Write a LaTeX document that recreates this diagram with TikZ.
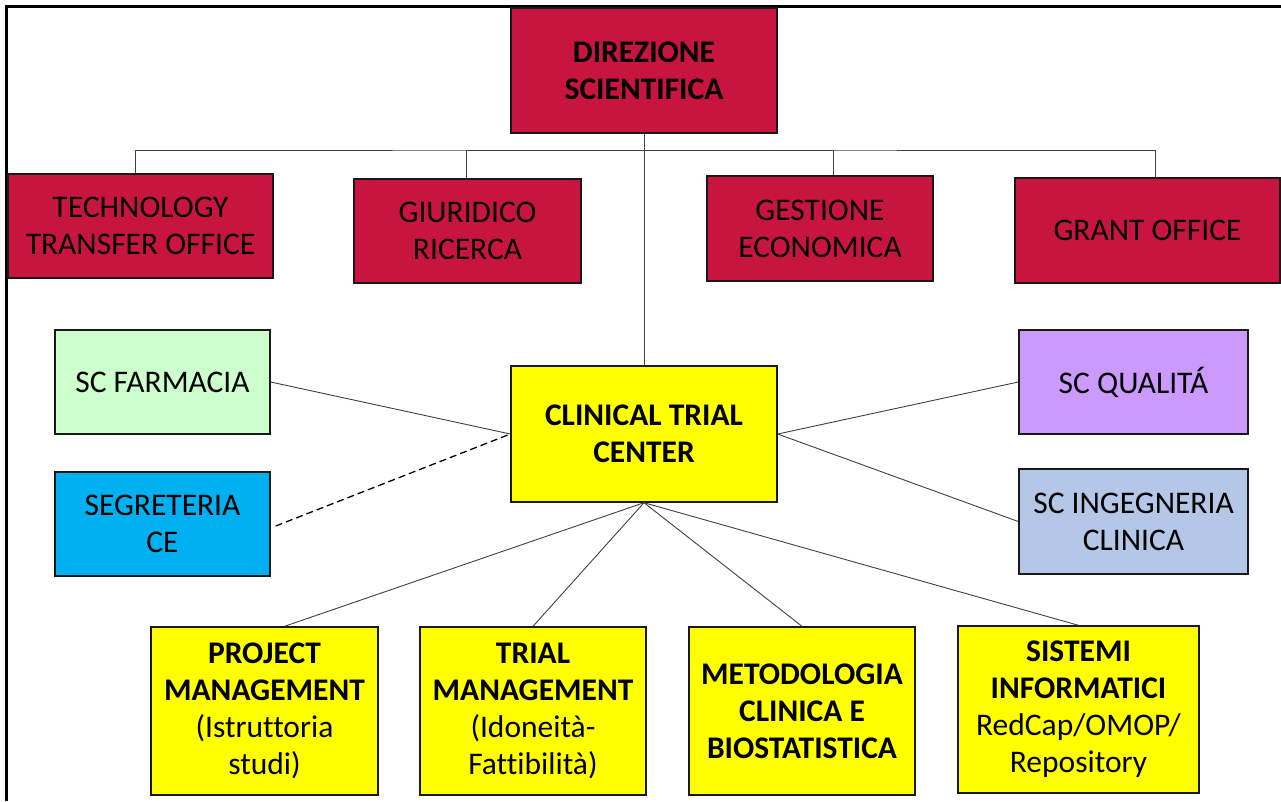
\documentclass[tikz,border=0pt]{standalone}
\usepackage{fontspec}
\setmainfont{Carlito}[Ligatures={NoCommon}]
\definecolor{crimson}{HTML}{C8153F}
\definecolor{ctyellow}{HTML}{FFFF00}
\definecolor{farmgreen}{HTML}{CCFFCC}
\definecolor{segblue}{HTML}{00B0F0}
\definecolor{qualpurple}{HTML}{CC99FF}
\definecolor{ingblue}{HTML}{B4C7E7}
\definecolor{linkgray}{HTML}{404040}
\begin{document}
\begin{tikzpicture}[x=1pt,y=-1pt,
  box/.style={draw=black!90,line width=1.4pt,align=center,inner sep=0pt,
    font=\fontsize{31.5}{37}\selectfont,text=black},
  redbox/.style={box,fill=crimson},
  link/.style={draw=linkgray,line width=0.9pt},
  dlink/.style={draw=black,line width=1.3pt,dash pattern=on 7pt off 4pt}]
\useasboundingbox (0,0) rectangle (1281,801);
\draw[line width=2.5pt] (6.5,801) -- (6.5,6.5) -- (1281,6.5);
% top level
\node[redbox,minimum width=266pt,minimum height=125pt] (dir) at (644,70.5) {\textbf{DIREZIONE}\\\textbf{SCIENTIFICA}};
\node[redbox,minimum width=265pt,minimum height=104pt] (tto) at (140.5,226) {TECHNOLOGY\\TRANSFER OFFICE};
\node[redbox,minimum width=227pt,minimum height=104pt] (giu) at (467.5,231) {GIURIDICO\\RICERCA};
\node[redbox,minimum width=226pt,minimum height=105pt] (ges) at (820,228.5) {GESTIONE\\ECONOMICA};
\node[redbox,minimum width=265pt,minimum height=105pt] (gra) at (1147.5,230.5) {GRANT OFFICE};
% middle
\node[box,fill=farmgreen,minimum width=215pt,minimum height=104pt] (far) at (162.5,382) {SC FARMACIA};
\node[box,fill=segblue,minimum width=215pt,minimum height=104pt] (seg) at (162.5,524) {SEGRETERIA\\CE};
\node[box,fill=ctyellow,minimum width=266pt,minimum height=136pt] (ctc) at (644,434) {\textbf{CLINICAL TRIAL}\\\textbf{CENTER}};
\node[box,fill=qualpurple,minimum width=229pt,minimum height=104pt] (qua) at (1133.5,382) {SC QUALITÁ};
\node[box,fill=ingblue,minimum width=229pt,minimum height=105pt] (ing) at (1133.5,521.5) {SC INGEGNERIA\\CLINICA};
% bottom
\node[box,fill=ctyellow,minimum width=227pt,minimum height=168pt] (pm) at (264.5,711) {\textbf{PROJECT}\\\textbf{MANAGEMENT}\\(Istruttoria\\studi)};
\node[box,fill=ctyellow,minimum width=226pt,minimum height=168pt] (tm) at (533,711) {\textbf{TRIAL}\\\textbf{MANAGEMENT}\\(Idoneità-\\Fattibilità)};
\node[box,fill=ctyellow,minimum width=226pt,minimum height=168pt] (met) at (802,711) {\textbf{METODOLOGIA}\\\textbf{CLINICA E}\\\textbf{BIOSTATISTICA}};
\node[box,fill=ctyellow,minimum width=241pt,minimum height=167pt] (si) at (1078.5,709.5) {\textbf{SISTEMI}\\\textbf{INFORMATICI}\\RedCap/OMOP/\\Repository};
% connectors top
\coordinate (bus) at (644,150);
\draw[link] (dir.south) -- (ctc.north);
\draw[link] ([xshift=-5.5pt]tto.north) |- (bus) -| ([xshift=7.5pt]gra.north);
\draw[link] ([xshift=-1.5pt]giu.north) |- (bus);
\draw[link] ([xshift=13pt]ges.north) |- (bus);
% connectors middle
\draw[link] (far.east) -- (ctc.west);
\draw[dlink] ([xshift=5pt,yshift=-2pt]seg.east) -- (ctc.west);
\draw[link] (qua.west) -- (ctc.east);
\draw[link] (ing.west) -- (ctc.east);
% connectors bottom
\draw[link] (ctc.south) -- ([xshift=20pt]pm.north);
\draw[link] (ctc.south) -- (tm.north);
\draw[link] (ctc.south) -- (met.north);
\draw[link] (ctc.south) -- (si.north);
\end{tikzpicture}
\end{document}
